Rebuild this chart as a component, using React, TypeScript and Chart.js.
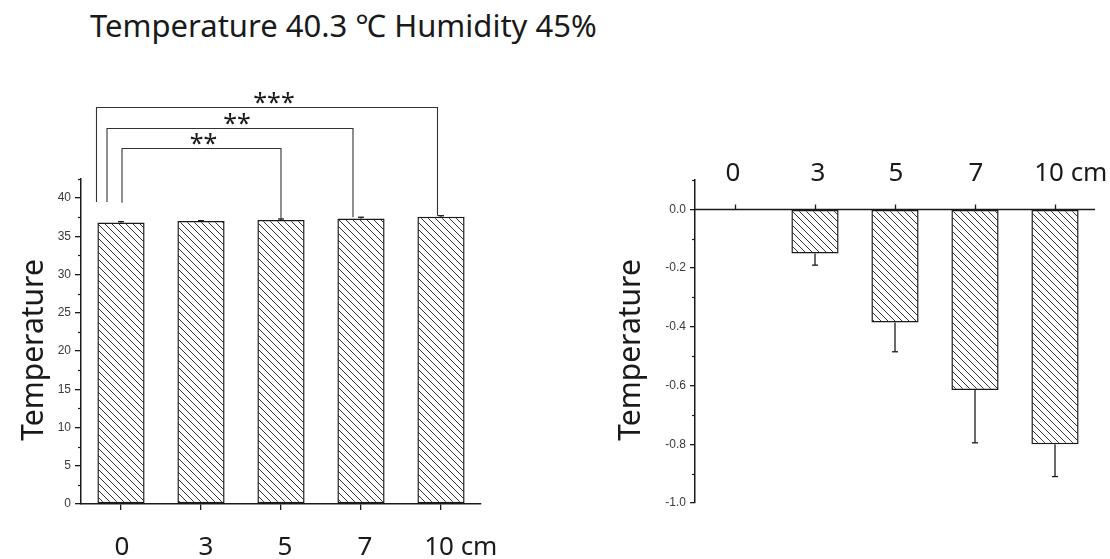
import React, { useEffect, useRef } from "react";
import { Chart, registerables } from "chart.js";
Chart.register(...registerables);

// ---------- data ----------
const categories = ["0", "3", "5", "7", "10"];
const unitLabel = "cm";
const absTemperature = [36.8, 37.0, 37.15, 37.35, 37.55];
const absError = [0.12, 0.05, 0.12, 0.15, 0.15];
const diffTemperature = [0, -0.15, -0.385, -0.615, -0.8];
const diffError = [0, 0.04, 0.1, 0.18, 0.11];
const leftYTicks = [0, 5, 10, 15, 20, 25, 30, 35, 40];
const leftYMinor = [2.5, 7.5, 12.5, 17.5, 22.5, 27.5, 32.5, 37.5, 42.5];
const rightYTicks = [-1.0, -0.8, -0.6, -0.4, -0.2, 0.0];
const rightYMinor = [-0.9, -0.7, -0.5, -0.3, -0.1, 0.1];
const significance = [
  { from: 0, to: 4, label: "***" },
  { from: 0, to: 3, label: "**" },
  { from: 0, to: 2, label: "**" },
];
const titleText = "Temperature 40.3 \u2103 Humidity 45%";
const yTitle = "Temperature";

// ---------- layout / style ----------
const BIG_FONT = "'Noto Sans', 'Noto Sans CJK KR', sans-serif";
const SMALL_FONT = "'Liberation Sans', Arial, sans-serif";
const INK = "#1a1a1a";
const bracketLevels = [51.9, 49.2, 46.5];
const bracketBases = [39.5, 39.5, 39.4];
const bracketFromShift = [-24.5, -14, 1];
const bracketToShift = [-3.5, -8, 0];
const bracketLabelShift = [7, 7, 2];
const leftLabelShift = [1, 5, 4, 4, -2];
const rightLabelShift = [-2, 3, 1, 1, -6];

function makeHatch(ctx: CanvasRenderingContext2D): CanvasPattern {
  const s = 7;
  const c = document.createElement("canvas");
  c.width = s;
  c.height = s;
  const g = c.getContext("2d")!;
  g.fillStyle = "#ffffff";
  g.fillRect(0, 0, s, s);
  g.strokeStyle = "#333";
  g.lineWidth = 1;
  g.beginPath();
  g.moveTo(-1, -1);
  g.lineTo(s + 1, s + 1);
  g.moveTo(-1, s - 1);
  g.lineTo(1, s + 1);
  g.moveTo(s - 1, -1);
  g.lineTo(s + 1, 1);
  g.stroke();
  return ctx.createPattern(c, "repeat")!;
}

function seg(ctx: CanvasRenderingContext2D, x1: number, y1: number, x2: number, y2: number) {
  ctx.beginPath();
  ctx.moveTo(x1, y1);
  ctx.lineTo(x2, y2);
  ctx.stroke();
}

function drawXLabel(ctx: CanvasRenderingContext2D, text: string, cx: number, baseline: number, withUnit: boolean) {
  ctx.textAlign = "center";
  ctx.textBaseline = "alphabetic";
  ctx.fillText(text, cx, baseline);
  if (withUnit) {
    const w = ctx.measureText(text).width;
    ctx.textAlign = "left";
    ctx.fillText(" " + unitLabel, cx + w / 2, baseline);
  }
}

const leftPlugin = {
  id: "leftDecor",
  afterDraw(chart: any) {
    const { ctx, chartArea } = chart;
    const x = chart.scales.x;
    const y = chart.scales.y;
    ctx.save();
    ctx.strokeStyle = INK;
    // error bars
    ctx.lineWidth = 1.3;
    absTemperature.forEach((v, i) => {
      const e = absError[i];
      if (!e) return;
      const px = x.getPixelForValue(i);
      const y0 = y.getPixelForValue(v);
      const y1 = y.getPixelForValue(v + e);
      seg(ctx, px, y0, px, y1);
      seg(ctx, px - 3, y1, px + 3, y1);
    });
    // minor ticks
    ctx.lineWidth = 1.2;
    leftYMinor.forEach((v) => {
      const py = Math.round(y.getPixelForValue(v)) + 0.5;
      seg(ctx, chartArea.left - 3, py, chartArea.left, py);
    });
    // significance brackets
    ctx.lineWidth = 1.1;
    ctx.strokeStyle = "#333";
    significance.forEach((s, k) => {
      const xa = x.getPixelForValue(s.from) + bracketFromShift[k];
      const xb = x.getPixelForValue(s.to) + bracketToShift[k];
      const yTop = Math.round(y.getPixelForValue(bracketLevels[k])) + 0.5;
      const yA = y.getPixelForValue(bracketBases[k]);
      const yB = y.getPixelForValue(absTemperature[s.to] + absError[s.to]);
      ctx.beginPath();
      ctx.moveTo(xa, yA);
      ctx.lineTo(xa, yTop);
      ctx.lineTo(xb, yTop);
      ctx.lineTo(xb, yB);
      ctx.stroke();
      ctx.fillStyle = INK;
      ctx.font = `25px ${BIG_FONT}`;
      ctx.textAlign = "center";
      ctx.textBaseline = "alphabetic";
      ctx.fillText(s.label, (xa + xb) / 2 + bracketLabelShift[k], yTop + 3);
    });
    // x labels
    ctx.fillStyle = INK;
    ctx.font = `26px ${BIG_FONT}`;
    categories.forEach((c, i) => {
      drawXLabel(ctx, c, x.getPixelForValue(i) + leftLabelShift[i], 555, i === categories.length - 1);
    });
    // y title
    ctx.translate(43, 350);
    ctx.rotate(-Math.PI / 2);
    ctx.font = `30px ${BIG_FONT}`;
    ctx.textAlign = "center";
    ctx.textBaseline = "alphabetic";
    ctx.fillText(yTitle, 0, 0);
    ctx.restore();
  },
};

const rightPlugin = {
  id: "rightDecor",
  afterDraw(chart: any) {
    const { ctx, chartArea } = chart;
    const x = chart.scales.x;
    const y = chart.scales.y;
    ctx.save();
    ctx.strokeStyle = INK;
    // zero axis line with upward ticks
    const y0 = Math.round(y.getPixelForValue(0)) + 0.5;
    ctx.lineWidth = 1.5;
    seg(ctx, chartArea.left, y0, chartArea.right, y0);
    ctx.lineWidth = 1.3;
    categories.forEach((_, i) => {
      const px = Math.round(x.getPixelForValue(i)) + 0.5;
      seg(ctx, px, y0, px, y0 - 5);
    });
    // error bars (downward)
    diffTemperature.forEach((v, i) => {
      const e = diffError[i];
      if (!e) return;
      const px = x.getPixelForValue(i);
      const ya = y.getPixelForValue(v);
      const yb = y.getPixelForValue(v - e);
      seg(ctx, px, ya, px, yb);
      seg(ctx, px - 3, yb, px + 3, yb);
    });
    // minor ticks
    ctx.lineWidth = 1.2;
    rightYMinor.forEach((v) => {
      const py = Math.round(y.getPixelForValue(v)) + 0.5;
      seg(ctx, chartArea.left - 3, py, chartArea.left, py);
    });
    // x labels on top
    ctx.fillStyle = INK;
    ctx.font = `26px ${BIG_FONT}`;
    categories.forEach((c, i) => {
      drawXLabel(ctx, c, x.getPixelForValue(i) + rightLabelShift[i], 181, i === categories.length - 1);
    });
    // y title
    ctx.translate(80, 350);
    ctx.rotate(-Math.PI / 2);
    ctx.font = `30px ${BIG_FONT}`;
    ctx.textAlign = "center";
    ctx.textBaseline = "alphabetic";
    ctx.fillText(yTitle, 0, 0);
    ctx.restore();
  },
};

function yAxis(min: number, max: number, ticks: number[], width: number, tickLen: number, fmt: (v: number) => string) {
  return {
    min,
    max,
    afterBuildTicks: (s: any) => {
      s.ticks = ticks.map((v) => ({ value: v }));
    },
    afterFit: (s: any) => {
      s.width = width;
    },
    ticks: {
      callback: (v: any) => fmt(Number(v)),
      font: { size: 12, family: SMALL_FONT },
      color: "#3a3a3a",
      padding: 4,
    },
    grid: { drawOnChartArea: false, tickLength: tickLen, color: INK, lineWidth: 1.3 },
    border: { color: INK, width: 1.5 },
  };
}

export default function App() {
  const leftRef = useRef<HTMLCanvasElement>(null);
  const rightRef = useRef<HTMLCanvasElement>(null);

  useEffect(() => {
    const lctx = leftRef.current!.getContext("2d")!;
    const rctx = rightRef.current!.getContext("2d")!;
    const lh = makeHatch(lctx);
    const rh = makeHatch(rctx);

    const left = new Chart(leftRef.current!, {
      type: "bar",
      data: {
        labels: categories,
        datasets: [
          {
            data: absTemperature,
            backgroundColor: lh,
            borderColor: INK,
            borderWidth: 1.5,
            borderSkipped: false,
            categoryPercentage: 1,
            barPercentage: 0.59,
          },
        ],
      },
      options: {
        responsive: false,
        animation: false,
        events: [],
        layout: { padding: { left: 0, top: 179, right: 79, bottom: 0 } },
        plugins: { legend: { display: false }, tooltip: { enabled: false }, title: { display: false } },
        scales: {
          x: {
            type: "category",
            offset: true,
            afterFit: (s: any) => {
              s.height = 55;
            },
            ticks: { display: false },
            grid: { drawOnChartArea: false, offset: false, tickLength: 6, color: INK, lineWidth: 1.3 },
            border: { color: INK, width: 1.5 },
          },
          y: yAxis(0, 42.5, leftYTicks, 81, 6, (v) => String(v)),
        },
      },
      plugins: [leftPlugin],
    } as any);

    const right = new Chart(rightRef.current!, {
      type: "bar",
      data: {
        labels: categories,
        datasets: [
          {
            data: diffTemperature,
            backgroundColor: rh,
            borderColor: INK,
            borderWidth: (c: any) => (c.raw === 0 ? 0 : 1.5),
            borderSkipped: false,
            categoryPercentage: 1,
            barPercentage: 0.59,
          },
        ],
      },
      options: {
        responsive: false,
        animation: false,
        events: [],
        layout: { padding: { left: 0, top: 180, right: 15, bottom: 56 } },
        plugins: { legend: { display: false }, tooltip: { enabled: false }, title: { display: false } },
        scales: {
          x: { type: "category", offset: true, display: false },
          y: yAxis(-1.0, 0.1, rightYTicks, 135, 5, (v) => v.toFixed(1)),
        },
      },
      plugins: [rightPlugin],
    } as any);

    return () => {
      left.destroy();
      right.destroy();
    };
  }, []);

  return (
    <div style={{ position: "absolute", left: 0, top: 0, width: 1110, height: 559, background: "#fff", overflow: "hidden" }}>
      <div
        style={{
          position: "absolute",
          left: 90,
          top: 10,
          font: `31px ${BIG_FONT}`,
          lineHeight: 1,
          whiteSpace: "nowrap",
          color: INK,
        }}
      >
        {titleText}
      </div>
      <canvas ref={leftRef} width={560} height={559} style={{ position: "absolute", left: 0, top: 0 }} />
      <canvas ref={rightRef} width={550} height={559} style={{ position: "absolute", left: 560, top: 0 }} />
    </div>
  );
}
